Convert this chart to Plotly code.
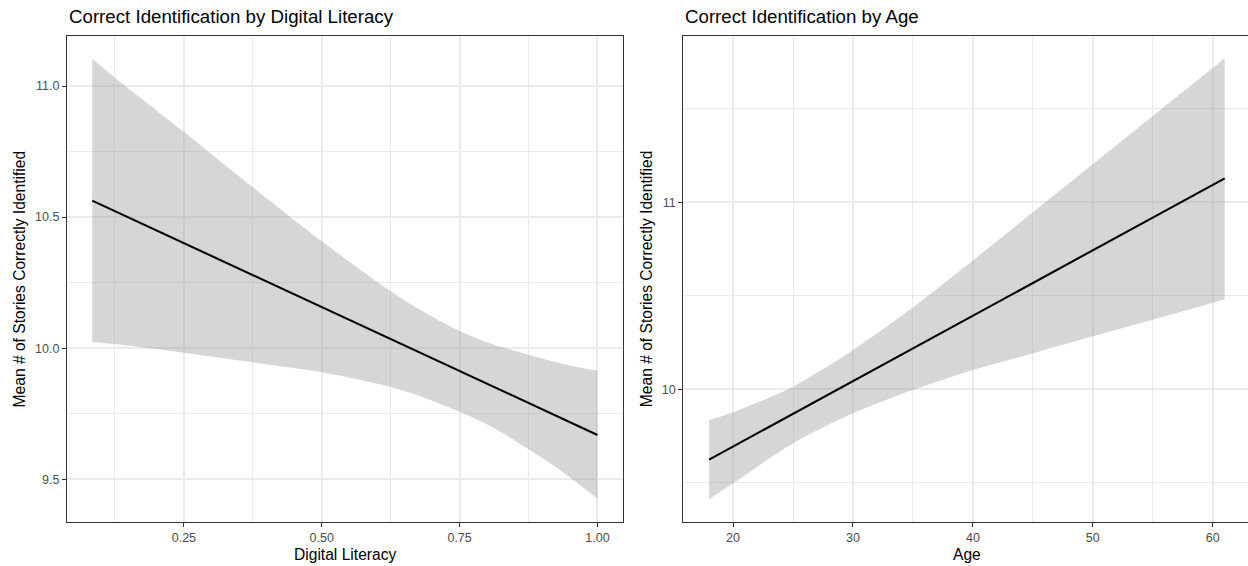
import plotly.graph_objects as go

# ---- Data ----
# Left panel: Digital Literacy
dl_x = [0.0837, 0.125, 0.25, 0.375, 0.5, 0.625, 0.6875, 0.75, 0.8125, 0.875, 0.9375, 1.0]
dl_upper = [11.104, 11.032, 10.825, 10.614, 10.408, 10.217, 10.135, 10.066, 10.013, 9.975, 9.940, 9.914]
dl_lower = [10.024, 10.016, 9.983, 9.946, 9.908, 9.852, 9.810, 9.757, 9.695, 9.614, 9.527, 9.426]
dl_fit_x = [0.0837, 1.0]
dl_fit_y = [10.563, 9.669]

# Right panel: Age
age_x = [18, 20, 25, 30, 35, 40, 45, 50, 55, 60, 61]
age_upper = [9.835, 9.877, 10.014, 10.210, 10.437, 10.688, 10.946, 11.203, 11.461, 11.718, 11.770]
age_lower = [9.412, 9.497, 9.711, 9.872, 9.996, 10.103, 10.192, 10.283, 10.372, 10.463, 10.481]
age_fit_x = [18, 61]
age_fit_y = [9.624, 11.128]

titles = ["Correct Identification by Digital Literacy", "Correct Identification by Age"]
x_titles = ["Digital Literacy", "Age"]
y_title = "Mean # of Stories Correctly Identified"

W, H = 1248, 566
FONT = "Liberation Sans, Arial, Helvetica, sans-serif"
RIBBON = "rgba(153,153,153,0.4)"
GRID = "#EBEBEB"
DARK = "#333333"
TICKC = "#4D4D4D"

fig = go.Figure()

def add_panel(xs, lo, up, fx, fy, xa, ya):
    fig.add_trace(go.Scatter(x=xs, y=lo, mode="lines", line=dict(width=0, shape="spline", smoothing=0.8),
                             xaxis=xa, yaxis=ya, showlegend=False, hoverinfo="skip"))
    fig.add_trace(go.Scatter(x=xs, y=up, mode="lines", line=dict(width=0, shape="spline", smoothing=0.8),
                             fill="tonexty", fillcolor=RIBBON,
                             xaxis=xa, yaxis=ya, showlegend=False, hoverinfo="skip"))
    fig.add_trace(go.Scatter(x=fx, y=fy, mode="lines", line=dict(color="black", width=2.1),
                             xaxis=xa, yaxis=ya, showlegend=False))

add_panel(dl_x, dl_lower, dl_upper, dl_fit_x, dl_fit_y, "x", "y")
add_panel(age_x, age_lower, age_upper, age_fit_x, age_fit_y, "x2", "y2")

ydom = [1 - 521.7 / H, 1 - 36 / H]

def axis_common():
    return dict(
        showgrid=True, gridcolor=GRID, gridwidth=2,
        zeroline=False, showline=True, linecolor=DARK, linewidth=1.1,
        ticks="outside", ticklen=4, tickwidth=1, tickcolor=DARK,
        tickfont=dict(family=FONT, size=12.5, color=TICKC),
        automargin=False, fixedrange=True,
    )

xa = axis_common()
xa.update(domain=[67 / W, 622.7 / W], range=[0.038, 1.0458], tick0=0, dtick=0.25,
          tickformat=".2f", mirror=True, anchor="y",
          minor=dict(showgrid=True, gridcolor=GRID, gridwidth=1, tick0=0, dtick=0.125))
ya = axis_common()
ya.update(domain=ydom, range=[9.338, 11.191], tick0=0, dtick=0.5, tickformat=".1f",
          mirror=True, anchor="x",
          minor=dict(showgrid=True, gridcolor=GRID, gridwidth=1, tick0=0, dtick=0.25))
xa2 = axis_common()
xa2.update(domain=[683.3 / W, 1.0], range=[15.85, 62.94], tick0=0, dtick=10,
           mirror=True, anchor="y2",
           minor=dict(showgrid=True, gridcolor=GRID, gridwidth=1, tick0=0, dtick=5))
ya2 = axis_common()
ya2.update(domain=ydom, range=[9.292, 11.889], tick0=0, dtick=1, mirror=False, anchor="x2",
           minor=dict(showgrid=True, gridcolor=GRID, gridwidth=1, tick0=0, dtick=0.5))

annotations = [
    dict(text=titles[0], x=67 / W, y=1 - 16.7 / H, xanchor="left", yanchor="middle",
         font=dict(family=FONT, size=18.7, color="black")),
    dict(text=titles[1], x=683.3 / W, y=1 - 16.7 / H, xanchor="left", yanchor="middle",
         font=dict(family=FONT, size=18.7, color="black")),
    dict(text=x_titles[0], x=344.9 / W, y=1 - 554.2 / H, xanchor="center", yanchor="middle",
         font=dict(family=FONT, size=15.6, color="black")),
    dict(text=x_titles[1], x=967 / W, y=1 - 554.2 / H, xanchor="center", yanchor="middle",
         font=dict(family=FONT, size=15.6, color="black")),
    dict(text=y_title, x=19.5 / W, y=1 - 278.9 / H, xanchor="center", yanchor="middle",
         textangle=-90, font=dict(family=FONT, size=15.6, color="black")),
    dict(text=y_title, x=647.3 / W, y=1 - 278.9 / H, xanchor="center", yanchor="middle",
         textangle=-90, font=dict(family=FONT, size=15.6, color="black")),
]
for a in annotations:
    a.update(xref="paper", yref="paper", showarrow=False)

fig.update_layout(
    width=W, height=H,
    margin=dict(l=0, r=0, t=0, b=0, pad=0),
    paper_bgcolor="white", plot_bgcolor="white",
    xaxis=xa, yaxis=ya, xaxis2=xa2, yaxis2=ya2,
    annotations=annotations,
    font=dict(family=FONT),
)

fig.write_html("out.html")
